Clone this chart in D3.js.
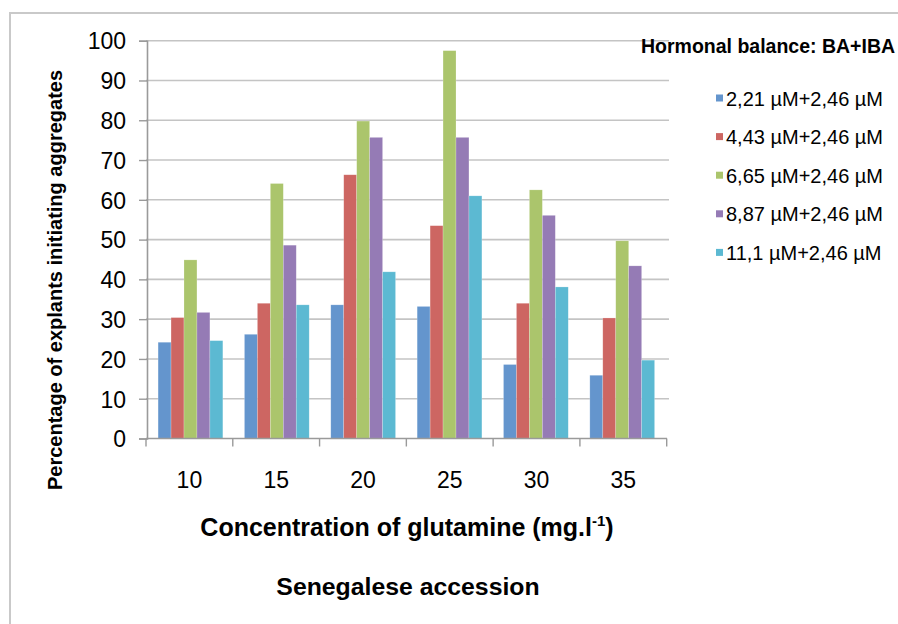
<!DOCTYPE html>
<html><head><meta charset="utf-8">
<script src="https://cdn.jsdelivr.net/npm/d3@7"></script>
<style>
html,body{margin:0;padding:0;background:#fff;}
svg{display:block;}
text{font-family:"Liberation Sans",Arial,sans-serif;fill:#000;}
</style></head>
<body>
<svg id="chart" width="898" height="624"></svg>
<script>
const categories = ["10","15","20","25","30","35"];
const seriesNames = ["2,21 µM+2,46 µM","4,43 µM+2,46 µM","6,65 µM+2,46 µM","8,87 µM+2,46 µM","11,1 µM+2,46 µM"];
const s1 = [24.2, 26.2, 33.6, 33.2, 18.6, 15.9];
const s2 = [30.4, 34.0, 66.3, 53.5, 34.0, 30.3];
const s3 = [44.9, 64.1, 79.8, 97.5, 62.5, 49.7];
const s4 = [31.7, 48.6, 75.7, 75.7, 56.1, 43.4];
const s5 = [24.6, 33.6, 41.9, 61.0, 38.1, 19.7];
const yTicks = [0,10,20,30,40,50,60,70,80,90,100];
const colors = ["#6495CD","#CD6662","#ABC56C","#957BB5","#5CB9D2"];
const seriesValues = [s1,s2,s3,s4,s5];

const svg = d3.select("#chart");

// outer frame
svg.append("path").attr("d","M10,624 L10,13 L898,13").attr("fill","none").attr("stroke","#c9c9c9").attr("stroke-width",2);

const x = d3.scaleBand().domain(categories).range([146,666.7]).paddingInner(0.25).paddingOuter(0.14);
const xOuter = d3.scaleBand().domain(categories).range([146,666.7]);
const xs = d3.scaleBand().domain(d3.range(seriesNames.length)).range([0,x.bandwidth()]);
const y = d3.scaleLinear().domain([0,100]).range([438.5,40.7]);

// gridlines
svg.append("g").selectAll("line").data(yTicks.filter(d=>d>0)).join("line")
  .attr("x1",146).attr("x2",669).attr("y1",d=>y(d)).attr("y2",d=>y(d))
  .attr("stroke","#c4c4c4").attr("stroke-width",1.6);

// bars
const groups = svg.append("g").selectAll("g").data(categories).join("g")
  .attr("transform",(d)=>`translate(${x(d)},0)`);
groups.selectAll("rect").data((d,i)=>seriesValues.map((s,k)=>({k, v:s[i]}))).join("rect")
  .attr("x",d=>xs(d.k)).attr("width",xs.bandwidth())
  .attr("y",d=>y(d.v)).attr("height",d=>y(0)-y(d.v))
  .attr("fill",d=>colors[d.k]).attr("stroke","rgba(255,255,255,0.35)").attr("stroke-width",0.6);

// y axis
const yAxis = d3.axisLeft(y).tickValues(yTicks).tickSize(8).tickPadding(13);
const gy = svg.append("g").attr("transform","translate(147,0)").call(yAxis);
gy.select(".domain").attr("stroke","#9a9a9a").attr("stroke-width",1.6);
gy.selectAll(".tick line").attr("stroke","#9a9a9a").attr("stroke-width",1.4);
gy.selectAll(".tick text").attr("font-size",23).attr("font-family","Liberation Sans, Arial, sans-serif").attr("fill","#000").attr("dy","0.36em");

// x axis
const gx = svg.append("g").attr("transform","translate(0,438.5)");
gx.append("line").attr("x1",146).attr("x2",667).attr("stroke","#9a9a9a").attr("stroke-width",1.6);
const bounds = categories.map(c=>xOuter(c)).concat([xOuter(categories[categories.length-1])+xOuter.bandwidth()]);
gx.selectAll("line.tk").data(bounds).join("line").attr("class","tk")
  .attr("x1",d=>d).attr("x2",d=>d).attr("y1",0).attr("y2",8).attr("stroke","#9a9a9a").attr("stroke-width",1.4);
gx.selectAll("text").data(categories).join("text")
  .attr("x",d=>xOuter(d)+xOuter.bandwidth()/2).attr("y",49)
  .attr("text-anchor","middle").attr("font-size",23).text(d=>d);

// axis titles
const xt = svg.append("text").attr("x",407).attr("y",536).attr("text-anchor","middle")
  .attr("font-size",25).attr("font-weight","bold");
xt.append("tspan").text("Concentration of glutamine (mg.l");
xt.append("tspan").attr("font-size",15).attr("dy",-10).text("-1");
xt.append("tspan").attr("dy",10).text(")");

svg.append("text").attr("x",408).attr("y",595).attr("text-anchor","middle")
  .attr("font-size",24.8).attr("font-weight","bold").text("Senegalese accession");

svg.append("text").attr("transform","translate(62,280) rotate(-90)").attr("text-anchor","middle")
  .attr("font-size",20).attr("font-weight","bold").text("Percentage of explants initiating aggregates");

// legend
svg.append("text").attr("x",641).attr("y",52.5).attr("font-size",19.5).attr("font-weight","bold").text("Hormonal balance: BA+IBA");
const leg = svg.append("g").selectAll("g").data(seriesNames).join("g")
  .attr("transform",(d,i)=>`translate(716,${98.5+i*38.6})`);
leg.append("rect").attr("x",0).attr("y",-4).attr("width",7).attr("height",7).attr("fill",(d,i)=>colors[i]);
leg.append("text").attr("x",10).attr("y",7).attr("font-size",20).text(d=>d);
</script>
</body></html>
